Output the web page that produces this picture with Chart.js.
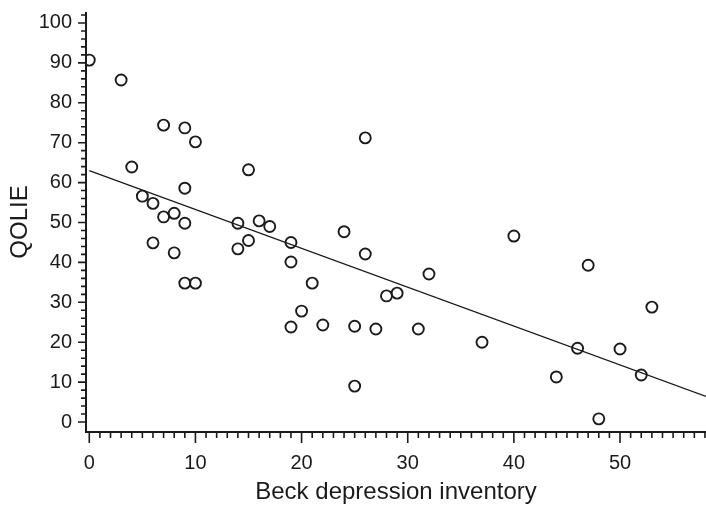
<!DOCTYPE html>
<html>
<head>
<meta charset="utf-8">
<script src="https://cdn.jsdelivr.net/npm/chart.js@4"></script>
<style>
  html, body { margin: 0; padding: 0; background: #fff; }
  #wrap { width: 706px; height: 506px; }
</style>
</head>
<body>
<div id="wrap"><canvas id="scatter"></canvas></div>
<script>
// Beck depression inventory vs QOLIE
const beckScores = [0, 3, 4, 5, 6, 6, 7, 7, 8, 8, 9, 9, 9, 9, 10, 10, 14, 14, 15, 15, 16, 17,
    19, 19, 19, 20, 21, 22, 24, 25, 25, 26, 26, 27, 28, 29, 31, 32, 37, 40, 44, 46, 47, 48, 50, 52, 53];
const qolieScores = [90.7, 85.7, 63.9, 56.6, 54.8, 44.9, 74.4, 51.4, 52.3, 42.4, 73.7, 58.6, 49.8, 34.8, 70.2, 34.8, 49.8, 43.4, 63.2, 45.5, 50.4, 49,
    45, 40.1, 23.8, 27.8, 34.8, 24.3, 47.7, 24, 9, 71.2, 42.1, 23.3, 31.6, 32.3, 23.3, 37.1, 20, 46.6, 11.3, 18.5, 39.3, 0.8, 18.3, 11.8, 28.8];

// regression line end points
const fitX = [0, 58.1];
const fitY = [63.0, 6.4];

const xTickValues = [0, 10, 20, 30, 40, 50];
const yTickValues = [0, 10, 20, 30, 40, 50, 60, 70, 80, 90, 100];

const ink = '#1b1b1b';
const fontFamily = '"Liberation Sans", Arial, sans-serif';

// let the plot run to the right edge of the canvas (Chart.js reserves room for point overflow)
const fullWidthArea = {
    id: 'fullWidthArea',
    afterLayout(chart) {
        const x = chart.scales.x;
        x.right = chart.width;
        x.width = x.right - x.left;
        x.configure();
        chart.chartArea.right = chart.width;
        chart.chartArea.width = chart.chartArea.right - chart.chartArea.left;
    }
};

// axis lines with major/minor tick marks, drawn through the scales
const axisTicks = {
    id: 'axisTicks',
    afterDraw(chart) {
        const { ctx, chartArea: a, scales: { x, y } } = chart;
        ctx.save();
        ctx.strokeStyle = ink;
        ctx.lineWidth = 2;
        ctx.beginPath();
        ctx.moveTo(a.left, a.top);
        ctx.lineTo(a.left, a.bottom);
        ctx.lineTo(a.right, a.bottom);
        ctx.stroke();

        ctx.lineWidth = 1.6;
        ctx.beginPath();
        for (let v = 0; v <= x.max; v++) {
            const px = x.getPixelForValue(v);
            const len = v % 10 === 0 ? 11 : 6;
            ctx.moveTo(px, a.bottom);
            ctx.lineTo(px, a.bottom + len);
        }
        for (let v = 0; v <= y.max; v += 2) {
            const py = y.getPixelForValue(v);
            const len = v % 10 === 0 ? 8 : 5;
            ctx.moveTo(a.left - len, py);
            ctx.lineTo(a.left, py);
        }
        ctx.stroke();
        ctx.restore();
    }
};

const ctx = document.getElementById('scatter');

new Chart(ctx, {
    type: 'scatter',
    data: {
        datasets: [{
            label: 'Patients',
            data: beckScores.map((b, i) => ({ x: b, y: qolieScores[i] })),
            pointRadius: 5.5,
            pointBorderWidth: 1.9,
            pointBorderColor: ink,
            pointBackgroundColor: 'rgba(0,0,0,0)'
        }, {
            label: 'Fit',
            data: fitX.map((v, i) => ({ x: v, y: fitY[i] })),
            showLine: true,
            borderColor: ink,
            borderWidth: 1.3,
            pointRadius: 0
        }]
    },
    options: {
        responsive: true,
        maintainAspectRatio: false,
        animation: false,
        layout: { padding: { top: 12, right: 0, left: 0, bottom: 0 } },
        plugins: {
            legend: { display: false },
            tooltip: { enabled: false }
        },
        scales: {
            x: {
                type: 'linear',
                min: -0.31,
                max: 58.1,
                afterFit(s) {
                    s.height = 74;
                    s.paddingLeft = 0;
                    s.paddingRight = 0;
                },
                afterBuildTicks(s) { s.ticks = xTickValues.map(v => ({ value: v })); },
                grid: { display: false, drawTicks: false },
                border: { display: false },
                ticks: { padding: 19, color: ink, maxRotation: 0, font: { family: fontFamily, size: 20 } },
                title: {
                    display: true,
                    text: 'Beck depression inventory',
                    color: ink,
                    font: { family: fontFamily, size: 24, lineHeight: 1.15 },
                    padding: { top: 0, bottom: 0 }
                }
            },
            y: {
                type: 'linear',
                min: -2.5,
                max: 102.75,
                afterFit(s) {
                    s.width = 86;
                    s.paddingTop = 0;
                    s.paddingBottom = 0;
                },
                afterBuildTicks(s) { s.ticks = yTickValues.map(v => ({ value: v })); },
                grid: { display: false, drawTicks: false },
                border: { display: false },
                ticks: { padding: 14, color: ink, font: { family: fontFamily, size: 20 } },
                title: {
                    display: true,
                    text: 'QOLIE',
                    color: ink,
                    font: { family: fontFamily, size: 24, lineHeight: 1.15 },
                    padding: { top: 7, bottom: 0 }
                }
            }
        }
    },
    plugins: [fullWidthArea, axisTicks]
});
</script>
</body>
</html>
